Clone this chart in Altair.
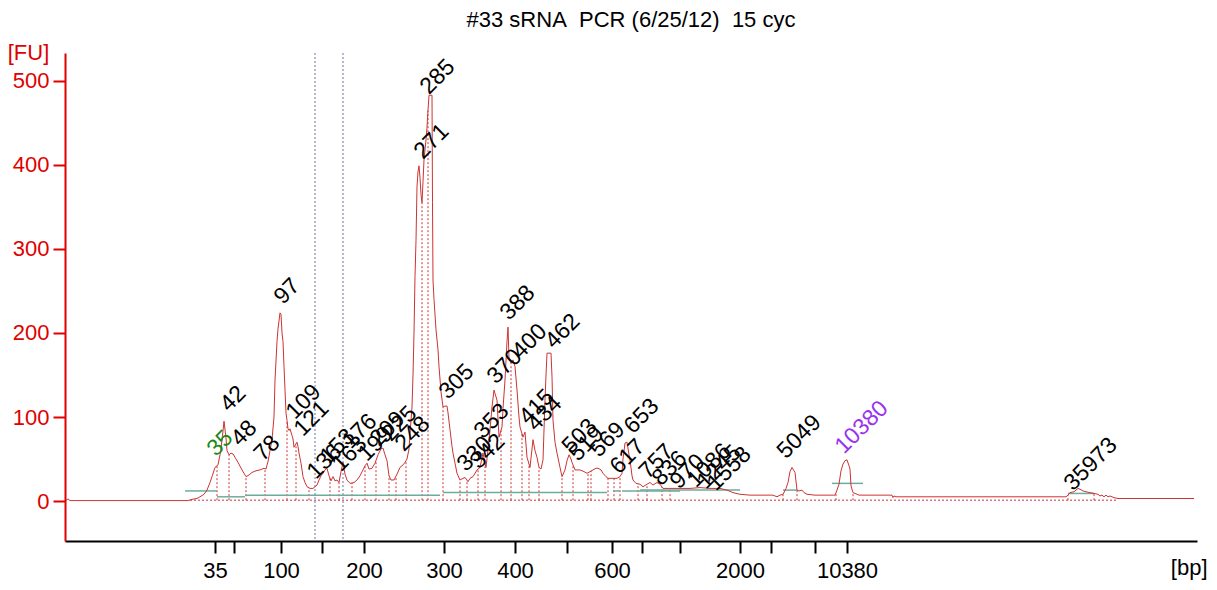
import altair as alt
import pandas as pd
import numpy as np

# ---- trace: migration position (axis units) and fluorescence [FU] ----
trace_x = [66, 68, 70, 188, 192, 197, 200, 204, 207, 210, 212, 215, 218, 220, 222, 224, 226, 227, 229, 231,
           233, 235, 238, 242, 246, 249, 252, 256, 260, 264, 266, 268, 270, 272, 274, 275, 277, 278, 280, 281,
           282, 283, 284, 285, 286, 287, 288, 289, 290, 292, 293, 294, 296, 297, 298, 299, 301, 303, 305, 307,
           310, 313, 315, 317, 319, 321, 323, 325, 327, 329, 331, 333, 335, 337, 339, 341, 343, 345, 347, 350,
           354, 357, 360, 363, 365, 367, 369, 372, 375, 378, 381, 383, 385, 387, 389, 391, 394, 397, 400, 403,
           405, 407, 409, 410, 412, 413, 414, 415, 416, 417, 418, 419, 420, 421, 422, 423, 424, 426, 427, 428,
           429, 432, 432.5, 433, 434, 436, 438, 439, 441, 443, 445, 447, 448, 450, 452, 453, 455, 457, 460, 463,
           465, 468, 470, 473, 477, 480, 483, 485, 486, 488, 490, 492, 494, 495, 497, 499, 500, 502, 503, 505,
           507, 508, 509, 511, 513, 515, 517, 519, 520, 523, 525, 527, 530, 533, 535, 537, 539, 541, 543, 545,
           546, 547, 551, 552, 553, 555, 557, 560, 562, 565, 567, 569, 571, 572, 575, 580, 584, 587, 590, 593,
           596, 598, 601, 603, 606, 608, 612, 617, 620, 622, 623, 625, 627, 629, 630, 632, 633, 636, 640, 643,
           647, 650, 653, 657, 660, 663, 670, 680, 690, 700, 710, 720, 727, 733, 740, 750, 760, 773, 777, 780,
           783, 786, 788, 790, 792, 794, 795, 797, 799, 802, 804, 807, 815, 825, 835, 837, 839, 841, 843, 845,
           847, 849, 850, 851, 853, 859, 870, 885, 892, 893, 894, 896, 950, 1000, 1066, 1068, 1070, 1074, 1078, 1080,
           1083, 1086, 1090, 1094, 1098, 1100, 1102, 1104, 1106, 1108, 1110, 1114, 1118, 1194]
trace_fu = [0.5, 2.5, 0.5, 0.5, 2, 3, 5, 8, 13, 22, 29, 40, 43, 55, 72, 95, 75, 60, 55, 57,
            56, 52, 46, 37, 29, 31, 34, 36, 37, 39, 38, 47, 60, 73, 100, 144, 190, 205, 224, 222,
            200, 190, 160, 132, 105, 96, 86, 84, 86, 78, 74, 64, 68, 70, 65, 57, 45, 29, 22, 17,
            15, 15, 17, 19, 25, 30, 33, 37, 39, 30, 24, 29, 24, 25, 22, 35, 46, 32, 25, 21,
            22, 25, 30, 37, 42, 45, 38, 39, 45, 55, 62, 63, 55, 48, 30, 25, 25, 32, 40, 43,
            46, 50, 62, 80, 112, 150, 200, 267, 310, 374, 392, 399, 385, 365, 355, 380, 406, 430, 445, 465,
            483, 483, 355, 263, 240, 204, 180, 160, 130, 112, 113, 113, 105, 85, 65, 57, 45, 33, 25, 27,
            28, 23, 27, 29, 37, 40, 57, 45, 40, 61, 85, 112, 132, 128, 120, 76, 80, 88, 110, 144,
            190, 207, 171, 164, 168, 160, 132, 100, 88, 76, 82, 52, 40, 73, 60, 52, 40, 38, 49, 120,
            150, 176, 176, 148, 96, 70, 57, 40, 29, 37, 48, 55, 50, 46, 37, 37, 35, 33, 35, 37,
            39, 39, 37, 33, 29, 27, 27, 27, 29, 33, 50, 69, 70, 55, 49, 30, 25, 21, 20, 17,
            20, 22, 19, 22, 20, 15, 15, 15, 15, 16, 15, 15, 13, 10, 8, 7, 7, 7, 5, 7,
            8, 15, 22, 35, 40, 36, 34, 13, 12, 13, 10, 8, 7, 7, 7, 13, 20, 36, 44, 48,
            49, 42, 38, 18, 10, 7, 7, 7, 7, 4, 6, 5, 5, 5, 5, 7, 10, 11, 15, 14,
            12, 11, 10, 9, 8, 6, 7, 5, 7, 5, 6, 4, 3, 3]

# ---- peak labels ----
peak_labels = ["35", "42", "48", "78", "97", "109", "121", "136", "153", "163", "176", "199", "209", "225",
               "248", "271", "285", "305", "330", "342", "353", "370", "388", "400", "415", "434", "462",
               "503", "519", "569", "617", "653", "757", "836", "970", "1086", "1245", "1558", "5049",
               "10380", "35973"]
peak_lx = [216, 229, 240, 263, 283, 295, 303, 316, 329, 341, 351, 367, 379, 391,
           404, 423, 429, 448, 466, 479, 483, 496, 509, 521, 528, 536, 554,
           571, 578, 599, 619, 633, 648, 661, 679, 696, 706, 716, 786,
           844, 1073]
peak_lfu = [52, 105, 64, 46, 233, 96, 76, 25, 43, 34, 61, 46, 64, 70,
            58, 406, 483, 120, 34, 37, 73, 138, 214, 168, 90, 82, 180,
            55, 46, 51, 31, 79, 25, 17, 13, 15, 13, 11, 49,
            55, 11]
peak_kind = ["lower"] + ["peak"] * 38 + ["upper", "peak"]

# ---- peak boundary (dotted) positions ----
bound_x = [217, 229, 246, 265, 287, 296, 309, 330, 339, 352, 365, 376, 389, 396, 406, 422, 428, 443,
           460, 467, 478, 485, 501, 511, 522, 529, 539, 562, 573, 588, 591, 608, 614, 620, 638, 647,
           662, 670, 783, 797, 836, 853, 1068, 1094]

# ---- teal peak-baseline segments ----
seg_x0 = [185, 217, 245, 443, 613, 622, 640, 783, 832, 1068]
seg_x1 = [217, 245, 440, 607, 620, 680, 740, 797, 863, 1094]
seg_fu = [12, 5, 7, 10, 12, 12, 13, 13, 21, 9]

# ---- region markers ----
region_x = [315, 343]

# ---- axis ticks ----
tick_pos = [215, 234, 281, 322, 364, 444, 515, 567, 612, 642, 680, 740, 771, 815, 847]
tick_lab = ["35", "", "100", "", "200", "300", "400", "", "600", "", "", "2000", "", "", "10380"]
y_ticks = [0, 100, 200, 300, 400, 500]

FONT = "Liberation Sans"
RED = "#e00000"
TRACE = "#cc3333"

xdom = [65, 1197]
ydom = [-47.6, 533.3]

trace = pd.DataFrame({"x": trace_x, "fu": trace_fu})
labels = pd.DataFrame({"x": peak_lx, "fu": peak_lfu, "t": peak_labels, "kind": peak_kind})
bounds = pd.DataFrame({"x": bound_x, "top": np.interp(bound_x, trace_x, trace_fu), "bot": 1.0})
segs = pd.DataFrame({"x0": seg_x0, "x1": seg_x1, "fu": seg_fu})
regions = pd.DataFrame({"x": region_x})
base = pd.DataFrame({"x0": [190], "x1": [1118], "fu": [1.0]})

label_map = "{" + ",".join(f"'{p}':'{l}'" for p, l in zip(tick_pos, tick_lab)) + "}"

xs = alt.Scale(domain=xdom, nice=False, zero=False)
ys = alt.Scale(domain=ydom, nice=False, zero=False)

x_axis = alt.Axis(values=tick_pos, labelExpr=f"{label_map}[datum.value]", title="[bp]",
                  grid=False, domainColor="black", domainWidth=2, tickColor="black", tickWidth=2,
                  tickSize=12, labelFont=FONT, labelFontSize=22, labelColor="black", labelPadding=7,
                  labelFlush=False, labelOverlap=False,
                  titleFont=FONT, titleFontSize=22, titleFontWeight="normal", titleColor="black",
                  titleAnchor="end", titleAlign="right", titleX=1142, titleY=26, titleBaseline="middle")
y_axis = alt.Axis(values=y_ticks, title="[FU]", grid=False, domainColor=RED, domainWidth=2,
                  tickColor=RED, tickWidth=2, tickSize=12, labelFont=FONT, labelFontSize=22,
                  labelColor=RED, labelPadding=4, labelFlush=False,
                  titleFont=FONT, titleFontSize=22, titleFontWeight="normal", titleColor=RED,
                  titleAngle=0, titleAlign="center", titleBaseline="middle", titleX=-37, titleY=-1)

region_layer = alt.Chart(regions).mark_rule(color="#7070a0", strokeDash=[2, 2], strokeWidth=1).encode(
    x=alt.X("x:Q", scale=xs, axis=x_axis), y=alt.value(0), y2=alt.value(488))

base_layer = alt.Chart(base).mark_rule(color=TRACE, strokeDash=[2, 2], strokeWidth=1).encode(
    x=alt.X("x0:Q", scale=xs), x2="x1:Q", y=alt.Y("fu:Q", scale=ys, axis=y_axis))

bound_layer = alt.Chart(bounds).mark_rule(color=TRACE, strokeDash=[2, 2], strokeWidth=1).encode(
    x=alt.X("x:Q", scale=xs), y=alt.Y("bot:Q", scale=ys), y2="top:Q")

seg_layer = alt.Chart(segs).mark_rule(color="#6fab9c", strokeWidth=1.5).encode(
    x=alt.X("x0:Q", scale=xs), x2="x1:Q", y=alt.Y("fu:Q", scale=ys))

trace_layer = alt.Chart(trace).mark_line(color=TRACE, strokeWidth=1, interpolate="linear").encode(
    x=alt.X("x:Q", scale=xs), y=alt.Y("fu:Q", scale=ys), order="x:Q")

text_layer = alt.Chart(labels).mark_text(angle=315, align="left", baseline="alphabetic",
                                         font=FONT, fontSize=23).encode(
    x=alt.X("x:Q", scale=xs), y=alt.Y("fu:Q", scale=ys), text="t:N",
    color=alt.Color("kind:N", scale=alt.Scale(domain=["lower", "peak", "upper"],
                                              range=["#1a8a1a", "#000000", "#9933ee"]), legend=None))

chart = alt.layer(region_layer, base_layer, bound_layer, seg_layer, trace_layer, text_layer).properties(
    width=1132, height=488,
    title=alt.TitleParams("#33 sRNA\u00a0\u00a0PCR (6/25/12)\u00a0\u00a015 cyc", font=FONT, fontSize=22,
                          fontWeight="normal", color="black", anchor="middle", offset=9),
    autosize=alt.AutoSizeParams(type="none"),
    padding={"left": 57, "top": 45, "right": 12, "bottom": 41},
    background="white",
).configure_view(stroke=None)

chart.save("out.html", embed_options={"renderer": "svg", "actions": False})
